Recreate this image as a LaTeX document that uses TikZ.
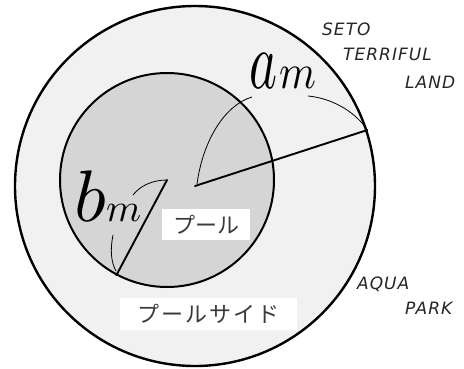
\documentclass[tikz,border=0pt]{standalone}
\usepackage{fontspec}
\newfontfamily\jpfont{Noto Sans CJK JP}
\newfontfamily\comicfont[LetterSpace=6]{DejaVu Sans}
\definecolor{ringgray}{HTML}{F1F1F1}
\definecolor{poolgray}{HTML}{D5D5D5}
\definecolor{jptext}{HTML}{3A3A3A}
\begin{document}
\begin{tikzpicture}[x=1pt,y=-1pt,
  ring/.style={circle, draw=black, line width=2.4pt, inner sep=0pt},
  radius line/.style={line width=1.9pt, line cap=round},
  thin arc/.style={line width=0.8pt},
  jpbox/.style={fill=white, text=jptext, inner sep=0pt, font=\jpfont\fontsize{22}{22}\selectfont},
  place/.style={anchor=base west, font=\comicfont\itshape\fontsize{17}{17}\selectfont, text=black!85, inner sep=0pt},
  biglabel/.style={anchor=base west, inner sep=0pt}
]
\useasboundingbox (0,0) rectangle (464,368);
\fill[white] (0,0) rectangle (464,368);
% circles
\node[ring, fill=ringgray, minimum size=360pt] (outer) at (195,186) {};
\node[ring, fill=poolgray, line width=2pt, minimum size=214pt] (inner) at (167,180) {};
\coordinate (O) at (outer.center);
\coordinate (C) at (inner.center);
\coordinate (A) at (outer.18.7);
\coordinate (B) at (inner.242);
% radii
\draw[radius line] (O) -- (A);
\draw[radius line] (C) -- (B);
% labels
\node[biglabel] (alab) at (249,88) {\scalebox{5.3}[8.1]{$a$}};
\node[biglabel] (am) at (279,88) {\scalebox{4.2}[4.9]{$m$}};
\node[biglabel] (blab) at (74,221) {\scalebox{7.4}[7.3]{$b$}};
\node[biglabel] (bm) at (106,221) {\scalebox{4.0}[3.95]{$m$}};
% annotation arcs
\coordinate (a1s) at (197,184);
\coordinate (a1e) at (252,97);
\coordinate (a2s) at (308,96);
\coordinate (b1s) at (133,195);
\coordinate (b2s) at (113,235);
\coordinate (b2e) at (116,271);
\draw[thin arc] (a1s) .. controls (203,140) and (225,105) .. (a1e);
\draw[thin arc] (a2s) .. controls (330,98) and (354,110) .. (A);
\draw[thin arc] (b1s) .. controls (140,186) and (152,180) .. (C);
\draw[thin arc] (b2s) .. controls (110,250) and (111,262) .. (b2e);
% Japanese labels
\node[jpbox, minimum width=88pt, minimum height=31pt] (pool) at (206,224.5) {プール};
\node[jpbox, minimum width=177pt, minimum height=32pt] (poolside) at (208.5,314) {プ\hspace{2pt}ー\hspace{2pt}ル\hspace{2pt}サ\hspace{2pt}イ\hspace{2pt}ド};
% place names
\node[place] (seto) at (322,35) {SETO};
\node[place] (terr) at (343,60) {TERRIFUL};
\node[place] (land) at (405,88) {LAND};
\node[place] (aqua) at (357,289) {AQUA};
\node[place] (park) at (405,314) {PARK};
\end{tikzpicture}
\end{document}
